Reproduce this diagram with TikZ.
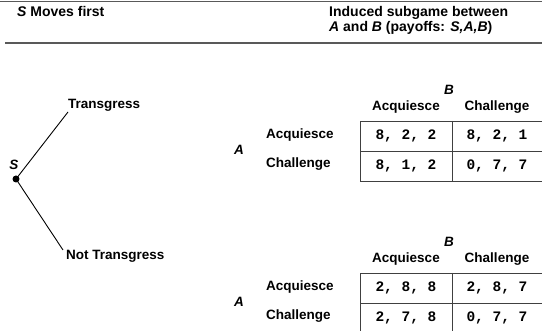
\documentclass[tikz,border=0pt]{standalone}
\usepackage{fontspec}
\setmainfont{Liberation Sans}
\setmonofont{Liberation Mono}
\usetikzlibrary{positioning}

\tikzset{
  hdr/.style={font=\fontsize{14}{16}\selectfont\bfseries, inner sep=0pt, anchor=base west},
  lbl/.style={font=\fontsize{13.5}{16}\selectfont\bfseries, inner sep=0pt, anchor=base west},
  pl/.style={font=\fontsize{13.5}{16}\selectfont\bfseries\itshape, inner sep=0pt, anchor=base},
  pay/.style={font=\fontsize{14.5}{16}\selectfont\ttfamily\bfseries, inner sep=0pt, anchor=base},
  rule/.style={draw=black!65, line width=1.3pt},
  cell/.style={draw=black!75, line width=0.8pt},
  branch/.style={draw=black, line width=0.9pt},
  dot/.style={circle, fill=black, inner sep=0pt, minimum size=7pt}
}

\begin{document}
\begin{tikzpicture}[x=1pt, y=-1pt]
    \useasboundingbox (0,0) rectangle (542,331);

    % --- 1. HEADER ---
    \draw[rule] (0,1.5) -- (542,1.5);
    \draw[rule] (5,43) -- (542,43);
    \node[hdr] (mvfirst) at (17,17) {\textit{S} Moves first};
    \node[hdr] (sub1) at (329,17) {Induced subgame between};
    \node[hdr] (sub2) at (329,32) {\textit{A} and \textit{B} (payoffs: \textit{S,A,B})};

    % --- 2. THE TREE ---
    \node[dot] (s) at (16,179) {};
    \node[pl] (slbl) at (14,170) {S};
    \coordinate (tup) at (68,112);
    \coordinate (tdown) at (63,250);
    \node[lbl] (trans) at (68,109) {Transgress};
    \node[lbl] (notrans) at (66,260) {Not Transgress};
    \draw[branch] (s.center) -- (tup);
    \draw[branch] (s.center) -- (tdown);

    % --- 3. SUBGAME AFTER TRANSGRESS ---
    \node[pl] (b1) at (449,95) {B};
    \node[lbl, anchor=base] (b1acq) at (406,111) {Acquiesce};
    \node[lbl, anchor=base] (b1ch) at (497,111) {Challenge};
    \node[pl] (a1) at (239,155) {A};
    \node[lbl] (a1acq) at (266,139) {Acquiesce};
    \node[lbl] (a1ch) at (266,168) {Challenge};
    % cells (right edge runs off the page)
    \draw[cell] (542,121) -- (360,121) -- (360,181) -- (542,181);
    \draw[cell] (360,151) -- (542,151);
    \draw[cell] (452,121) -- (452,181);
    \node[pay] (p1aa) at (406,140) {8, 2, 2};
    \node[pay] (p1ac) at (497,140) {8, 2, 1};
    \node[pay] (p1ca) at (406,170) {8, 1, 2};
    \node[pay] (p1cc) at (497,170) {0, 7, 7};

    % --- 4. SUBGAME AFTER NOT TRANSGRESS ---
    \node[pl] (b2) at (449,247) {B};
    \node[lbl, anchor=base] (b2acq) at (406,263) {Acquiesce};
    \node[lbl, anchor=base] (b2ch) at (497,263) {Challenge};
    \node[pl] (a2) at (239,307) {A};
    \node[lbl] (a2acq) at (266,291) {Acquiesce};
    \node[lbl] (a2ch) at (266,320) {Challenge};
    % cells (bottom and right edge run off the page)
    \draw[cell] (542,273) -- (360,273) -- (360,331);
    \draw[cell] (360,303) -- (542,303);
    \draw[cell] (452,273) -- (452,331);
    \node[pay] (p2aa) at (406,292) {2, 8, 8};
    \node[pay] (p2ac) at (497,292) {2, 8, 7};
    \node[pay] (p2ca) at (406,322) {2, 7, 8};
    \node[pay] (p2cc) at (497,322) {0, 7, 7};

\end{tikzpicture}
\end{document}
